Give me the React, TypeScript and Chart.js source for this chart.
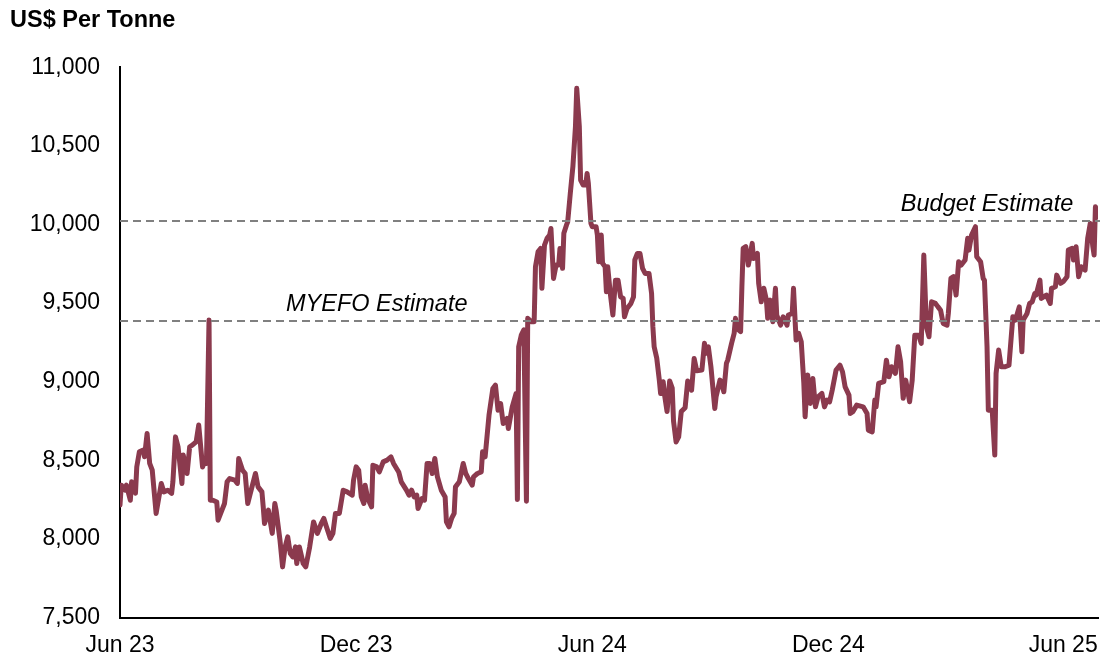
import { useEffect, useRef } from "react";
import { Chart, registerables } from "chart.js";

Chart.register(...registerables);

// Days since 1 June 2023
const DAYS = [
  0, 1, 4, 5, 8, 9, 12, 13, 15, 18, 19, 21, 23, 25, 28, 32, 34, 37, 40, 41, 43, 45, 48, 49, 52, 54, 56, 59, 61, 64, 66, 67, 69, 70, 72, 75, 76, 79, 81, 83, 85, 89, 91, 92, 95, 97, 99,
  101, 103, 105, 107, 110, 111, 112, 115, 118, 120, 121, 124, 126, 128, 130, 132, 134, 136, 137, 139, 142, 144, 147, 150, 153, 156, 158, 160, 163, 165, 167, 170, 173, 176, 180, 181, 183, 185, 187, 189, 190, 192, 195, 196, 199,
  201, 204, 207, 210, 212, 216, 218, 222, 224, 226, 228, 230, 231, 234, 236, 238, 240, 242, 244, 246, 249, 252, 253, 255, 257, 259, 260, 263, 266, 268, 270, 273, 274, 277, 280, 281, 283, 286, 289, 291, 293, 295, 297,
  300, 301, 304, 307, 308, 309, 311, 313, 315, 316, 319, 321, 322, 324, 326, 327, 329, 331, 333, 334, 336, 338, 340, 341, 343, 344, 346, 347, 349, 351, 353, 354, 356, 357, 359, 361, 362, 363, 365, 366, 369, 370, 371, 373, 374, 376, 377, 378, 380, 382, 384, 386, 388, 390, 391, 393, 396, 398, 399,
  401, 403, 405, 407, 410, 412, 413, 414, 416, 418, 419, 421, 422, 424, 426, 428, 429, 431, 433, 435, 438, 440, 443, 445, 447, 451, 453, 454, 456, 458, 461, 462, 465, 466, 468, 470, 471, 474, 476, 477, 478, 481, 482, 483, 485, 487, 490, 491, 494, 495, 497, 499,
  501, 502, 504, 506, 508, 509, 512, 514, 517, 518, 521, 522, 524, 526, 528, 530, 531, 533, 535, 537, 539, 541, 544, 546, 548, 550, 552, 555, 558, 560, 562, 565, 566, 568, 571, 576, 579, 580, 583, 585, 586, 588, 592, 594, 596, 598,
  601, 603, 605, 607, 609, 612, 614, 616, 619, 621, 623, 625, 627, 629, 632, 634, 636, 638, 641, 642, 644, 646, 648, 650, 652, 655, 657, 658, 660, 663, 664, 667, 669, 670, 672, 673, 676, 678, 679, 681, 683, 686, 689, 692, 694, 697, 699,
  700, 703, 705, 707, 709, 710, 713, 714, 718, 721, 722, 725, 726, 729, 731, 734, 735, 738, 739, 741, 743, 745, 748, 750, 752, 754, 755, 756, 758,
];

// Copper price, US$ per tonne
const PRICES = [
  8215, 8342, 8310, 8342, 8246, 8363, 8291, 8458, 8554, 8565, 8522, 8671, 8480, 8437, 8162, 8353, 8299, 8310, 8289, 8363, 8649, 8586, 8353, 8533, 8416, 8586, 8596, 8617, 8724, 8458, 8501, 8480, 9392, 8246, 8246, 8235, 8119, 8183, 8225, 8363, 8384, 8374, 8353, 8512, 8437, 8416, 8225,
  8289, 8353, 8416, 8331, 8299, 8204, 8098, 8183, 8035, 8225, 8183, 7992, 7822, 7949, 8013, 7907, 7885, 7949, 7843, 7949, 7843, 7822, 7949, 8108, 8035, 8098, 8130, 8077, 8003, 8035, 8162, 8162, 8310, 8299, 8278, 8374, 8458, 8437, 8267, 8225, 8342, 8257, 8204, 8469, 8458,
  8426, 8490, 8501, 8522, 8480, 8426, 8363, 8310, 8278, 8310, 8267, 8278, 8193, 8257, 8246, 8480, 8480, 8416, 8512, 8395, 8310, 8267, 8108, 8077, 8130, 8162, 8331, 8363, 8480, 8416, 8384, 8342, 8395, 8416, 8426, 8554, 8522, 8787, 8957, 8978, 8819, 8861, 8734,
  8766, 8702, 8840, 8925, 8250, 9222, 9296, 9330, 8240, 9403, 9381, 9381, 9731, 9826, 9848, 9594, 9869, 9912, 9933, 9975, 9657, 9742, 9742, 9848, 9721, 9944, 9996, 10017, 10198, 10367, 10622, 10866, 10622, 10283, 10251, 10251, 10325, 10262, 10007, 9986, 9986, 9933, 9763, 9933, 9753, 9731, 9572, 9731, 9561, 9424, 9646, 9646, 9540, 9530, 9413, 9466, 9498, 9540, 9774,
  9816, 9816, 9721, 9689, 9689, 9561, 9350, 9222, 9150, 9010, 8925, 9000, 8920, 8810, 9005, 8960, 8750, 8617, 8649, 8810, 8835, 9005, 8946, 9148, 9070, 9074, 9244, 9180, 9222, 9095, 8830, 8904, 9010, 9000, 8936, 9116, 9137, 9244, 9307, 9403, 9339, 9318, 9604, 9848, 9859, 9742, 9880, 9784, 9816, 9626, 9508, 9594,
  9519, 9403, 9519, 9381, 9594, 9424, 9360, 9413, 9360, 9424, 9434, 9594, 9265, 9307, 9254, 8989, 8777, 9042, 8862, 9021, 8840, 8904, 8925, 8840, 8883, 8872, 8946, 9074, 9105, 9063, 8967, 8915, 8798, 8809, 8851, 8840, 8798, 8692, 8681, 8883, 8840, 8989, 9000, 9137, 9031, 9095,
  9053, 9222, 9127, 8894, 9010, 8872, 9010, 9296, 9296, 9244, 9806, 9349, 9286, 9508, 9498, 9476, 9455, 9371, 9360, 9434, 9657, 9668, 9551, 9763, 9742, 9774, 9912, 9837, 9933, 9986, 9795, 9763, 9657, 9646, 9222, 8819, 8819, 8533, 9053, 9201, 9095, 9095, 9105, 9413, 9392, 9476, 9190,
  9392, 9434, 9498, 9508, 9561, 9551, 9646, 9530, 9551, 9498, 9594, 9604, 9678, 9626, 9636, 9668, 9837, 9848, 9774, 9859, 9668, 9731, 9710, 9912, 10007, 9859, 9806, 10113, 10049,
];

const TICK_DAYS = [0, 183, 366, 549, 731];
const TICK_LABELS = ["Jun 23", "Dec 23", "Jun 24", "Dec 24", "Jun 25"];

const REF_NAMES = ["MYEFO Estimate", "Budget Estimate"];
const REF_VALUES = [9385, 10020];
const REF_LABEL_DAYS = [199, 672];

const TITLE = "US$ Per Tonne";

const FONT = "'Liberation Sans', Arial, Helvetica, sans-serif";

const overlayPlugin = {
  id: "overlay",
  afterDatasetsDraw(chart: any) {
    const { ctx, chartArea, scales } = chart;
    const xs = scales.x;
    const ys = scales.y;
    ctx.save();
    ctx.strokeStyle = "#808080";
    ctx.lineWidth = 2;
    ctx.setLineDash([8, 5]);
    REF_VALUES.forEach((v) => {
      const py = Math.round(ys.getPixelForValue(v));
      ctx.beginPath();
      ctx.moveTo(chartArea.left, py);
      ctx.lineTo(chart.width, py);
      ctx.stroke();
    });
    ctx.setLineDash([]);
    ctx.fillStyle = "#000000";
    ctx.font = `italic 23.5px ${FONT}`;
    ctx.textAlign = "center";
    ctx.textBaseline = "alphabetic";
    REF_NAMES.forEach((t, i) => {
      ctx.fillText(t, xs.getPixelForValue(REF_LABEL_DAYS[i]), ys.getPixelForValue(REF_VALUES[i]) - 10);
    });
    ctx.font = `bold 23.5px ${FONT}`;
    ctx.textAlign = "left";
    ctx.fillText(TITLE, 10, 27);
    ctx.restore();
  },
};

export default function App() {
  const ref = useRef<HTMLCanvasElement | null>(null);

  useEffect(() => {
    if (!ref.current) return;
    const points = DAYS.map((d, i) => ({ x: d, y: PRICES[i] }));
    const chart = new Chart(ref.current, {
      type: "line",
      data: {
        datasets: [
          {
            label: "Copper price",
            data: points,
            borderColor: "#8B3A4E",
            borderWidth: 5,
            pointRadius: 0,
            tension: 0,
            borderJoinStyle: "round",
            borderCapStyle: "round",
            fill: false,
          },
        ],
      },
      options: {
        animation: false,
        responsive: false,
        maintainAspectRatio: false,
        layout: { padding: { top: 67.3, right: 2, left: 0, bottom: 0 } },
        plugins: {
          legend: { display: false },
          tooltip: { enabled: false },
          title: { display: false },
        },
        scales: {
          x: {
            type: "linear",
            min: 0,
            max: 758,
            grid: { display: false, drawTicks: false },
            border: { display: true, color: "#000000", width: 2 },
            afterBuildTicks: (scale: any) => {
              scale.ticks = TICK_DAYS.map((v) => ({ value: v }));
            },
            afterFit: (scale: any) => {
              scale.height = 41.5;
              scale.paddingLeft = 0;
              scale.paddingRight = 0;
            },
            ticks: {
              autoSkip: false,
              maxRotation: 0,
              padding: 14,
              color: "#000000",
              font: { family: FONT, size: 23 },
              callback: (value: any) => {
                const i = TICK_DAYS.indexOf(Number(value));
                return i >= 0 ? TICK_LABELS[i] : "";
              },
            },
          },
          y: {
            min: 7500,
            max: 11000,
            grid: { display: false, drawTicks: false },
            border: { display: true, color: "#000000", width: 2 },
            afterFit: (scale: any) => {
              scale.width = 120;
              scale.paddingTop = 0;
              scale.paddingBottom = 0;
            },
            ticks: {
              stepSize: 500,
              padding: 20,
              color: "#000000",
              font: { family: FONT, size: 23 },
              callback: (value: any) => Number(value).toLocaleString("en-US"),
            },
          },
        },
      },
      plugins: [overlayPlugin],
    });
    return () => chart.destroy();
  }, []);

  return (
    <div style={{ position: "fixed", left: 0, top: 0, width: 1100, height: 659, background: "#ffffff" }}>
      <canvas ref={ref} width={1100} height={659} style={{ display: "block" }} />
    </div>
  );
}
